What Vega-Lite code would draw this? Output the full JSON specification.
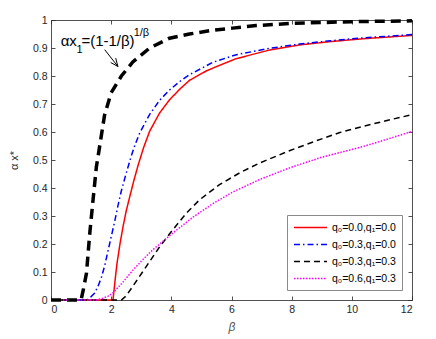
{
  "$schema": "https://vega.github.io/schema/vega-lite/v6.json",
  "width": 361,
  "height": 280,
  "autosize": {"type": "none"},
  "padding": {"left": 51, "top": 20, "right": 24, "bottom": 39},
  "config": {
    "view": {"stroke": null},
    "font": "Liberation Sans",
    "axis": {
      "grid": false,
      "domainColor": "#262626",
      "domainWidth": 0.8,
      "tickColor": "#262626",
      "tickWidth": 0.8,
      "tickSize": -4,
      "labelColor": "#262626",
      "labelFont": "Liberation Sans",
      "labelFontSize": 10.5,
      "labelPadding": 8,
      "titleColor": "#262626",
      "titleFont": "Liberation Sans",
      "titleFontWeight": "normal"
    },
    "legend": {
      "orient": "bottom-right",
      "offset": 10,
      "title": null,
      "symbolType": "M-1,0H5",
      "symbolSize": 121,
      "symbolStrokeWidth": 1.5,
      "labelOffset": 26,
      "padding": 6,
      "rowPadding": 5,
      "strokeColor": "#8a8a8a",
      "fillColor": "white",
      "labelFont": "Liberation Sans",
      "labelFontSize": 10.5,
      "labelColor": "#000000"
    }
  },
  "datasets": {
    "curves": [
      {"series": "q₀=0.0,q₁=0.0", "beta": 0, "v": 0},
      {"series": "q₀=0.0,q₁=0.0", "beta": 2.06, "v": 0},
      {"series": "q₀=0.0,q₁=0.0", "beta": 2.1, "v": 0.04},
      {"series": "q₀=0.0,q₁=0.0", "beta": 2.15, "v": 0.09},
      {"series": "q₀=0.0,q₁=0.0", "beta": 2.2, "v": 0.135},
      {"series": "q₀=0.0,q₁=0.0", "beta": 2.3, "v": 0.205},
      {"series": "q₀=0.0,q₁=0.0", "beta": 2.4, "v": 0.265},
      {"series": "q₀=0.0,q₁=0.0", "beta": 2.5, "v": 0.318},
      {"series": "q₀=0.0,q₁=0.0", "beta": 2.62, "v": 0.37},
      {"series": "q₀=0.0,q₁=0.0", "beta": 2.75, "v": 0.425},
      {"series": "q₀=0.0,q₁=0.0", "beta": 2.9, "v": 0.483},
      {"series": "q₀=0.0,q₁=0.0", "beta": 3.08, "v": 0.545},
      {"series": "q₀=0.0,q₁=0.0", "beta": 3.28, "v": 0.603},
      {"series": "q₀=0.0,q₁=0.0", "beta": 3.61, "v": 0.668},
      {"series": "q₀=0.0,q₁=0.0", "beta": 3.94, "v": 0.715},
      {"series": "q₀=0.0,q₁=0.0", "beta": 4.3, "v": 0.755},
      {"series": "q₀=0.0,q₁=0.0", "beta": 4.61, "v": 0.785},
      {"series": "q₀=0.0,q₁=0.0", "beta": 5.16, "v": 0.818},
      {"series": "q₀=0.0,q₁=0.0", "beta": 5.6, "v": 0.838},
      {"series": "q₀=0.0,q₁=0.0", "beta": 6.16, "v": 0.862},
      {"series": "q₀=0.0,q₁=0.0", "beta": 7.27, "v": 0.893},
      {"series": "q₀=0.0,q₁=0.0", "beta": 8.26, "v": 0.911},
      {"series": "q₀=0.0,q₁=0.0", "beta": 9.3, "v": 0.923},
      {"series": "q₀=0.0,q₁=0.0", "beta": 10.37, "v": 0.933},
      {"series": "q₀=0.0,q₁=0.0", "beta": 12, "v": 0.945},

      {"series": "q₀=0.3,q₁=0.0", "beta": 0, "v": 0},
      {"series": "q₀=0.3,q₁=0.0", "beta": 1.2, "v": 0},
      {"series": "q₀=0.3,q₁=0.0", "beta": 1.286, "v": 0.007},
      {"series": "q₀=0.3,q₁=0.0", "beta": 1.452, "v": 0.025},
      {"series": "q₀=0.3,q₁=0.0", "beta": 1.563, "v": 0.049},
      {"series": "q₀=0.3,q₁=0.0", "beta": 1.674, "v": 0.08},
      {"series": "q₀=0.3,q₁=0.0", "beta": 1.784, "v": 0.122},
      {"series": "q₀=0.3,q₁=0.0", "beta": 1.894, "v": 0.175},
      {"series": "q₀=0.3,q₁=0.0", "beta": 2.006, "v": 0.228},
      {"series": "q₀=0.3,q₁=0.0", "beta": 2.116, "v": 0.28},
      {"series": "q₀=0.3,q₁=0.0", "beta": 2.226, "v": 0.337},
      {"series": "q₀=0.3,q₁=0.0", "beta": 2.339, "v": 0.39},
      {"series": "q₀=0.3,q₁=0.0", "beta": 2.505, "v": 0.455},
      {"series": "q₀=0.3,q₁=0.0", "beta": 2.671, "v": 0.515},
      {"series": "q₀=0.3,q₁=0.0", "beta": 2.78, "v": 0.55},
      {"series": "q₀=0.3,q₁=0.0", "beta": 2.95, "v": 0.597},
      {"series": "q₀=0.3,q₁=0.0", "beta": 3.28, "v": 0.663},
      {"series": "q₀=0.3,q₁=0.0", "beta": 3.61, "v": 0.713},
      {"series": "q₀=0.3,q₁=0.0", "beta": 3.94, "v": 0.75},
      {"series": "q₀=0.3,q₁=0.0", "beta": 4.3, "v": 0.782},
      {"series": "q₀=0.3,q₁=0.0", "beta": 4.61, "v": 0.805},
      {"series": "q₀=0.3,q₁=0.0", "beta": 5.38, "v": 0.849},
      {"series": "q₀=0.3,q₁=0.0", "beta": 6.16, "v": 0.876},
      {"series": "q₀=0.3,q₁=0.0", "beta": 7.27, "v": 0.899},
      {"series": "q₀=0.3,q₁=0.0", "beta": 8.26, "v": 0.914},
      {"series": "q₀=0.3,q₁=0.0", "beta": 9.3, "v": 0.926},
      {"series": "q₀=0.3,q₁=0.0", "beta": 10.37, "v": 0.936},
      {"series": "q₀=0.3,q₁=0.0", "beta": 12, "v": 0.948},

      {"series": "q₀=0.3,q₁=0.3", "beta": 0, "v": 0},
      {"series": "q₀=0.3,q₁=0.3", "beta": 2.34, "v": 0},
      {"series": "q₀=0.3,q₁=0.3", "beta": 2.5, "v": 0.015},
      {"series": "q₀=0.3,q₁=0.3", "beta": 2.72, "v": 0.049},
      {"series": "q₀=0.3,q₁=0.3", "beta": 3.17, "v": 0.12},
      {"series": "q₀=0.3,q₁=0.3", "beta": 3.61, "v": 0.19},
      {"series": "q₀=0.3,q₁=0.3", "beta": 4.05, "v": 0.251},
      {"series": "q₀=0.3,q₁=0.3", "beta": 4.5, "v": 0.31},
      {"series": "q₀=0.3,q₁=0.3", "beta": 4.94, "v": 0.358},
      {"series": "q₀=0.3,q₁=0.3", "beta": 5.6, "v": 0.412},
      {"series": "q₀=0.3,q₁=0.3", "beta": 6.27, "v": 0.454},
      {"series": "q₀=0.3,q₁=0.3", "beta": 6.93, "v": 0.489},
      {"series": "q₀=0.3,q₁=0.3", "beta": 7.9, "v": 0.532},
      {"series": "q₀=0.3,q₁=0.3", "beta": 8.8, "v": 0.568},
      {"series": "q₀=0.3,q₁=0.3", "beta": 9.6, "v": 0.598},
      {"series": "q₀=0.3,q₁=0.3", "beta": 10.37, "v": 0.62},
      {"series": "q₀=0.3,q₁=0.3", "beta": 11.2, "v": 0.642},
      {"series": "q₀=0.3,q₁=0.3", "beta": 12, "v": 0.662},

      {"series": "q₀=0.6,q₁=0.3", "beta": 0, "v": 0},
      {"series": "q₀=0.6,q₁=0.3", "beta": 1.5, "v": 0},
      {"series": "q₀=0.6,q₁=0.3", "beta": 1.7, "v": 0.005},
      {"series": "q₀=0.6,q₁=0.3", "beta": 1.9, "v": 0.014},
      {"series": "q₀=0.6,q₁=0.3", "beta": 2.06, "v": 0.025},
      {"series": "q₀=0.6,q₁=0.3", "beta": 2.4, "v": 0.065},
      {"series": "q₀=0.6,q₁=0.3", "beta": 2.72, "v": 0.106},
      {"series": "q₀=0.6,q₁=0.3", "beta": 3.05, "v": 0.144},
      {"series": "q₀=0.6,q₁=0.3", "beta": 3.39, "v": 0.18},
      {"series": "q₀=0.6,q₁=0.3", "beta": 4.05, "v": 0.239},
      {"series": "q₀=0.6,q₁=0.3", "beta": 4.72, "v": 0.296},
      {"series": "q₀=0.6,q₁=0.3", "beta": 5.38, "v": 0.344},
      {"series": "q₀=0.6,q₁=0.3", "beta": 6.05, "v": 0.386},
      {"series": "q₀=0.6,q₁=0.3", "beta": 6.93, "v": 0.43},
      {"series": "q₀=0.6,q₁=0.3", "beta": 7.93, "v": 0.472},
      {"series": "q₀=0.6,q₁=0.3", "beta": 9.0, "v": 0.51},
      {"series": "q₀=0.6,q₁=0.3", "beta": 10.37, "v": 0.548},
      {"series": "q₀=0.6,q₁=0.3", "beta": 11.2, "v": 0.575},
      {"series": "q₀=0.6,q₁=0.3", "beta": 12, "v": 0.602}
    ],
    "bound": [
      {"beta": 0, "v": 0},
      {"beta": 1.0, "v": 0},
      {"beta": 1.08, "v": 0.04},
      {"beta": 1.18, "v": 0.096},
      {"beta": 1.29, "v": 0.24},
      {"beta": 1.4, "v": 0.36},
      {"beta": 1.51, "v": 0.477},
      {"beta": 1.59, "v": 0.53},
      {"beta": 1.78, "v": 0.66},
      {"beta": 2.0, "v": 0.74},
      {"beta": 2.34, "v": 0.8},
      {"beta": 2.72, "v": 0.85},
      {"beta": 3.28, "v": 0.9},
      {"beta": 3.94, "v": 0.935},
      {"beta": 4.6, "v": 0.95},
      {"beta": 5.3, "v": 0.962},
      {"beta": 6.04, "v": 0.971},
      {"beta": 6.82, "v": 0.98},
      {"beta": 8.0, "v": 0.988},
      {"beta": 10.0, "v": 0.994},
      {"beta": 12.0, "v": 0.997}
    ],
    "arrow": [
      {"part": "shaft", "k": 1, "beta": 1.785, "v": 0.894},
      {"part": "shaft", "k": 2, "beta": 2.225, "v": 0.834},
      {"part": "head", "k": 1, "beta": 2.15, "v": 0.864},
      {"part": "head", "k": 2, "beta": 2.225, "v": 0.834},
      {"part": "head", "k": 3, "beta": 1.985, "v": 0.848}
    ],
    "note": [
      {"t": "αx", "role": "big", "beta": 0.322, "v": 0.906},
      {"t": "1", "role": "small", "beta": 0.845, "v": 0.883},
      {"t": "=(1-1/β)", "role": "big", "beta": 1.01, "v": 0.906},
      {"t": "1/β", "role": "small", "beta": 2.747, "v": 0.9414}
    ]
  },
  "resolve": {"axis": {"x": "independent", "y": "independent"}},
  "layer": [
    {
      "data": {"name": "curves"},
      "mark": {"type": "line", "strokeWidth": 1.5},
      "encoding": {
        "x": {
          "field": "beta", "type": "quantitative",
          "scale": {"domain": [0, 12], "nice": false, "zero": false},
          "axis": {"values": [0, 2, 4, 6, 8, 10, 12], "title": "β", "titleFontStyle": "italic", "titleFontSize": 12, "titlePadding": 7, "titleColor": "#555555"}
        },
        "y": {
          "field": "v", "type": "quantitative",
          "scale": {"domain": [0, 1], "nice": false},
          "axis": {"values": [0, 0.1, 0.2, 0.3, 0.4, 0.5, 0.6, 0.7, 0.8, 0.9, 1], "format": "~g", "title": "α x*", "titleFontSize": 11, "titlePadding": 13}
        },
        "color": {
          "field": "series", "type": "nominal",
          "scale": {"domain": ["q₀=0.0,q₁=0.0", "q₀=0.3,q₁=0.0", "q₀=0.3,q₁=0.3", "q₀=0.6,q₁=0.3"], "range": ["#ff0000", "#0000ff", "#000000", "#ff00ff"]}
        },
        "strokeDash": {
          "field": "series", "type": "nominal",
          "scale": {"domain": ["q₀=0.0,q₁=0.0", "q₀=0.3,q₁=0.0", "q₀=0.3,q₁=0.3", "q₀=0.6,q₁=0.3"], "range": [[1, 0], [6, 3, 1.5, 3], [6, 4], [1.5, 1.5]]}
        }
      }
    },
    {
      "data": {"name": "bound"},
      "mark": {"type": "line", "strokeWidth": 3.5, "strokeDash": [10, 6], "color": "#000000"},
      "encoding": {
        "x": {"field": "beta", "type": "quantitative", "axis": {"orient": "top", "labels": false, "title": null, "values": [0, 2, 4, 6, 8, 10, 12]}},
        "y": {"field": "v", "type": "quantitative", "axis": {"orient": "right", "labels": false, "title": null, "values": [0, 0.1, 0.2, 0.3, 0.4, 0.5, 0.6, 0.7, 0.8, 0.9, 1]}}
      }
    },
    {
      "data": {"name": "arrow"},
      "mark": {"type": "line", "strokeWidth": 1, "color": "#000000"},
      "encoding": {
        "x": {"field": "beta", "type": "quantitative", "axis": null},
        "y": {"field": "v", "type": "quantitative", "axis": null},
        "detail": {"field": "part"},
        "order": {"field": "k"}
      }
    },
    {
      "data": {"name": "note"},
      "mark": {"type": "text", "align": "left", "baseline": "alphabetic", "font": "Liberation Sans", "color": "#000000"},
      "encoding": {
        "x": {"field": "beta", "type": "quantitative", "axis": null},
        "y": {"field": "v", "type": "quantitative", "axis": null},
        "text": {"field": "t"},
        "size": {"field": "role", "type": "nominal", "scale": {"domain": ["big", "small"], "range": [15, 11]}, "legend": null}
      }
    }
  ]
}
